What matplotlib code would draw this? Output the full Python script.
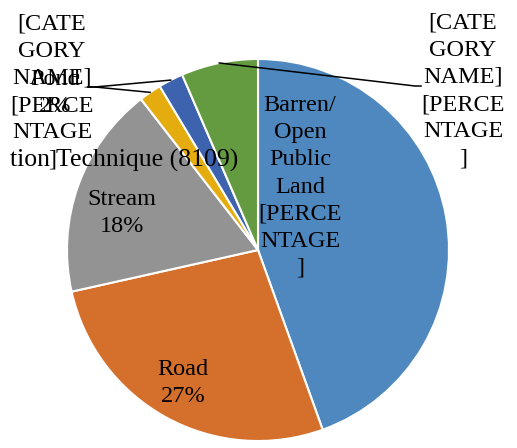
import numpy as np
import matplotlib
matplotlib.use("Agg")
import matplotlib.pyplot as plt

W, H = 517, 448

# ---------------------------------------------------------------------------
# Data
# ---------------------------------------------------------------------------
categories = ["Barren/Open Public Land", "Road", "Stream", "Pond", "Other 1", "Other 2"]
values = [44.5, 27.0, 18.0, 1.9, 2.1, 6.5]
colors = ["#4F88BE", "#D4702C", "#939393", "#E5AC0F", "#3D63AE", "#649A40"]
label_texts = [
    "Barren/\nOpen\nPublic\nLand\n[PERCE\nNTAGE\n]",
    "Road\n27%",
    "Stream\n18%",
    "Pond\n2%",
    "[CATE\nGORY\nNAME]\n[PERCE\nNTAGE\n]",
    "[CATE\nGORY\nNAME]\n[PERCE\nNTAGE\n]",
]
# label centres in pixel coords (top-left origin)
label_pos = [(300, 187), (183, 383), (122, 213), (55, 93), (52, 92), (463, 91)]
title_text = "tion Technique (8109)"

plt.rcParams["font.family"] = ["Liberation Serif", "DejaVu Serif"]

fig = plt.figure(figsize=(W / 100, H / 100), dpi=100)
ax = fig.add_axes([0, 0, 1, 1])

cx, cy, R = 258, H - 250, 191
wedges, _ = ax.pie(
    values, colors=colors, startangle=90, counterclock=False,
    center=(cx, cy), radius=R,
    wedgeprops=dict(edgecolor="white", linewidth=1.5),
)
ax.set_xlim(0, W)
ax.set_ylim(0, H)
ax.axis("off")

# leader lines for the small outer slices
def edge_point(w):
    mid = np.deg2rad((w.theta1 + w.theta2) / 2)
    return cx + R * np.cos(mid), cy + R * np.sin(mid)

for idx, (ex, ey), hx in [(3, (95, 87), 88), (4, (95, 87), 88), (5, (415, 86), 421)]:
    sx, sy = edge_point(wedges[idx])
    ax.plot([sx, ex, hx], [sy, H - ey, H - ey], color="black", lw=1.1)

for txt, (x, y) in zip(label_texts, label_pos):
    ax.text(x, H - y, txt, ha="center", va="center", fontsize=17.5,
            linespacing=1.38, color="black")

ax.text(238, H - 160, title_text, ha="right", va="center", fontsize=18.5, color="black")

fig.savefig("out.png", dpi=100)
